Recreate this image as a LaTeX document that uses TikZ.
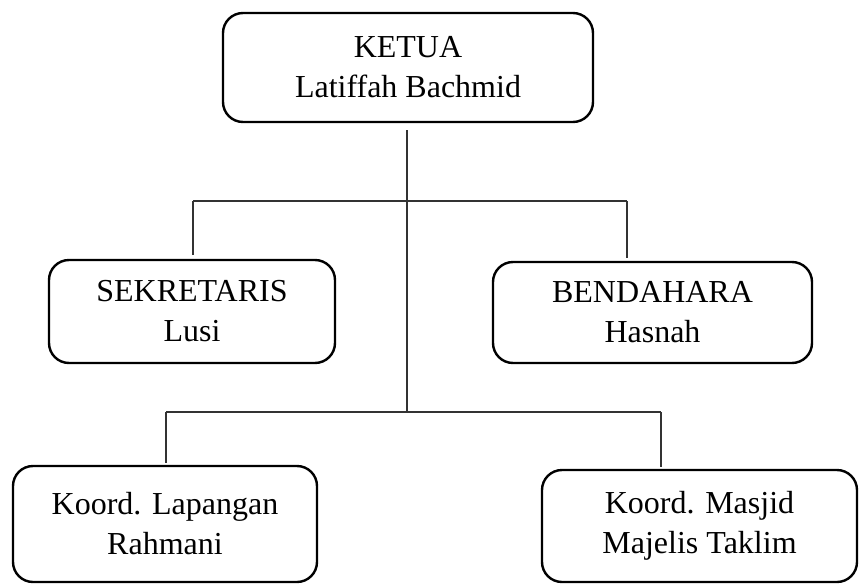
\documentclass[tikz,border=0pt]{standalone}
\usepackage{fontspec}
\setmainfont{Liberation Serif}

\begin{document}
\begin{tikzpicture}[x=1pt, y=-1pt,
                    box_style/.style={draw=black, line width=2.4pt, rounded corners=20pt,
                                      align=center, inner sep=0pt,
                                      font=\fontsize{32}{40}\selectfont},
                    line_style/.style={draw=black!80, line width=1.4pt}
   ]
   \useasboundingbox (0,0) rectangle (860,584);
   % Boxes
   \node[box_style, minimum width=370pt, minimum height=109pt] (ketua) at (408,67.5) {KETUA\\Latiffah Bachmid};
   \node[box_style, minimum width=286pt, minimum height=103pt] (sek) at (192,311.5) {SEKRETARIS\\Lusi};
   \node[box_style, minimum width=319pt, minimum height=101pt] (bend) at (652.5,312.5) {BENDAHARA\\Hasnah};
   \node[box_style, minimum width=304pt, minimum height=116pt] (lap) at (165,524) {Koord. Lapangan\\Rahmani};
   \node[box_style, minimum width=315pt, minimum height=112pt] (mas) at (699.5,526) {Koord. Masjid\\Majelis Taklim};
   % Junctions
   \coordinate (up_l) at (193,201);
   \coordinate (up_r) at (627,201);
   \coordinate (low_l) at (166,412);
   \coordinate (low_r) at (661,412);
   \coordinate (trunk) at (407,412);

   \draw[line_style, shorten <=7pt] (ketua.south -| trunk) -- (trunk);
   \draw[line_style] (up_l) -- (up_r);
   \draw[line_style, shorten >=4pt] (up_l) -- (sek.north -| up_l);
   \draw[line_style, shorten >=3pt] (up_r) -- (bend.north -| up_r);
   \draw[line_style] (low_l) -- (low_r);
   \draw[line_style, shorten >=2pt] (low_l) -- (lap.north -| low_l);
   \draw[line_style, shorten >=2pt] (low_r) -- (mas.north -| low_r);
\end{tikzpicture}
\end{document}
